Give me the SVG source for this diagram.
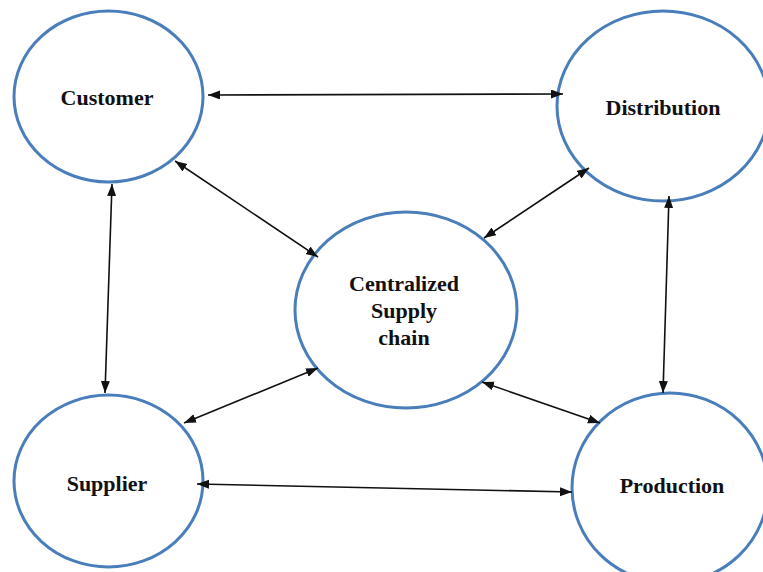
<svg xmlns="http://www.w3.org/2000/svg" width="763" height="572" viewBox="0 0 763 572">
  <style>
    .node ellipse { fill: #ffffff; stroke: #4A7EBB; stroke-width: 3; }
    .node text { font-family: "Liberation Serif", "Times New Roman", serif; font-weight: bold; font-size: 22px; fill: #111111; text-anchor: middle; }
    .edge { stroke: #111111; stroke-width: 1.6; fill: none; marker-start: url(#head); marker-end: url(#head); }
  </style>
  <defs>
    <marker id="head" markerUnits="userSpaceOnUse" markerWidth="13" markerHeight="10" refX="12" refY="4.5" orient="auto-start-reverse">
      <path d="M0,0 L12,4.5 L0,9 z" fill="#111111"/>
    </marker>
  </defs>
  <rect width="763" height="572" fill="#ffffff"/>

  <g id="customer" class="node">
    <ellipse cx="108.5" cy="96.5" rx="94.5" ry="85.5"/>
    <text x="107" y="105">Customer</text>
  </g>
  <g id="distribution" class="node">
    <ellipse cx="663" cy="106" rx="106" ry="95"/>
    <text x="663" y="115">Distribution</text>
  </g>
  <g id="centralized" class="node">
    <ellipse cx="406" cy="310" rx="111" ry="98"/>
    <text x="404" y="291">Centralized</text>
    <text x="404" y="318">Supply</text>
    <text x="404" y="345">chain</text>
  </g>
  <g id="supplier" class="node">
    <ellipse cx="108.5" cy="481" rx="94.5" ry="86"/>
    <text x="107" y="491">Supplier</text>
  </g>
  <g id="production" class="node">
    <ellipse cx="670" cy="488" rx="98" ry="95"/>
    <text x="672" y="493">Production</text>
  </g>

  <g id="connectors">
    <line class="edge" x1="208" y1="95" x2="563" y2="94"/>
    <line class="edge" x1="175" y1="161" x2="318" y2="257"/>
    <line class="edge" x1="589" y1="168" x2="484" y2="238"/>
    <line class="edge" x1="112" y1="184" x2="105" y2="393"/>
    <line class="edge" x1="669" y1="196" x2="663" y2="393"/>
    <line class="edge" x1="318" y1="368" x2="184" y2="423"/>
    <line class="edge" x1="482" y1="382" x2="600" y2="423"/>
    <line class="edge" x1="197" y1="484" x2="572" y2="492"/>
  </g>
</svg>
